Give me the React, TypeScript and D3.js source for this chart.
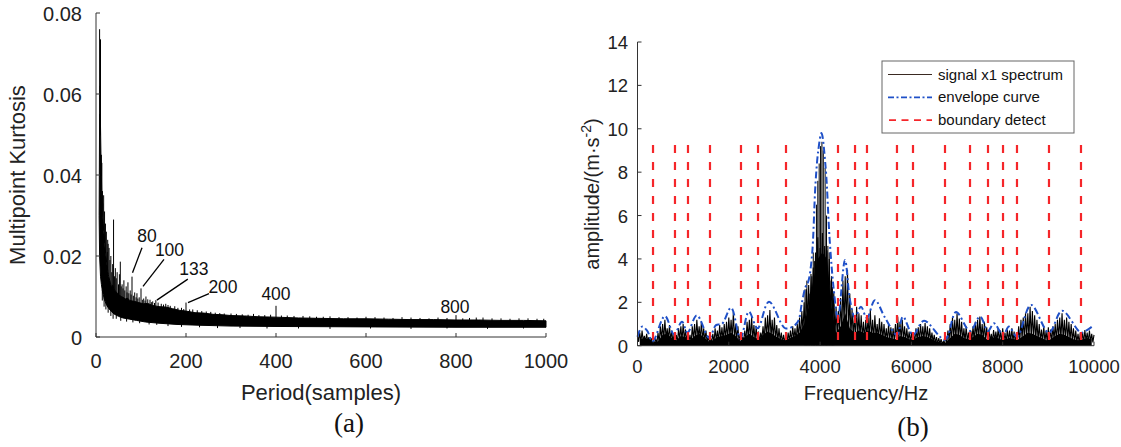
import React from 'react';
import * as d3 from 'd3';

const W = 1121;
const H = 447;

// ---------- Panel (a): multipoint kurtosis vs period ----------
const kurtXTicks = [0, 200, 400, 600, 800, 1000];
const kurtYTicks = [0, 0.02, 0.04, 0.06, 0.08];
const kurtYTickLabels = ['0', '0.02', '0.04', '0.06', '0.08'];

const bandUpperPeriods = [7, 8, 9, 10, 11, 12, 13, 14, 15, 16, 18, 20, 22, 24, 26, 28, 31, 34, 37, 40, 44, 48, 52, 56, 60, 65, 70, 75, 85, 95, 105, 115, 125, 140, 155, 170, 185, 200, 220, 240, 260, 280, 300, 330, 360, 400, 450, 500, 550, 600, 650, 700, 750, 800, 850, 900, 950, 1000];
const bandUpperValues = [0.030, 0.055, 0.050, 0.052, 0.045, 0.040, 0.034, 0.036, 0.030, 0.028, 0.025, 0.022, 0.020, 0.018, 0.0165, 0.015, 0.0138, 0.0125, 0.0128, 0.0118, 0.0112, 0.0108, 0.0103, 0.0100, 0.0098, 0.0094, 0.0096, 0.0090, 0.0088, 0.0085, 0.0082, 0.0083, 0.0078, 0.0075, 0.0074, 0.0070, 0.0066, 0.0064, 0.0060, 0.0059, 0.0056, 0.0055, 0.0053, 0.0052, 0.0050, 0.0049, 0.0047, 0.0046, 0.0045, 0.0045, 0.0044, 0.0043, 0.0043, 0.0042, 0.0042, 0.0041, 0.0041, 0.0040];
const bandLowerPeriods = [7, 8, 10, 12, 14, 16, 18, 20, 24, 28, 34, 40, 50, 60, 75, 90, 110, 140, 180, 230, 300, 400, 600, 800, 1000];
const bandLowerValues = [0.030, 0.020, 0.015, 0.013, 0.0115, 0.0105, 0.0095, 0.0088, 0.0078, 0.0071, 0.0063, 0.0057, 0.0051, 0.0047, 0.0044, 0.0041, 0.0037, 0.0034, 0.0031, 0.0029, 0.0027, 0.0026, 0.0025, 0.0024, 0.0024];

const spikePeriods = [8, 9, 10, 12, 13, 15, 17, 19, 21, 23, 25, 26, 27, 29, 31, 33, 35, 37, 39, 41, 43, 45, 47, 50, 52, 54, 56, 58, 60, 62, 64, 67, 69, 71, 73, 76, 78, 80, 83, 86, 89, 91, 93, 96, 100, 103, 106, 109, 111, 115, 120, 123, 126, 130, 133, 138, 145, 150, 155, 160, 165, 175, 182, 190, 195, 200, 208, 215, 225, 235, 245, 255, 265, 275, 285, 300, 312, 325, 338, 350, 362, 375, 388, 400, 412, 425, 440, 460, 475, 490, 505, 520, 540, 560, 580, 600, 620, 640, 660, 680, 700, 720, 740, 760, 780, 800, 815, 830, 845, 860, 880, 900, 920, 940, 960, 980, 995];
const spikeValues = [0.076, 0.062, 0.0735, 0.045, 0.043, 0.033, 0.035, 0.031, 0.028, 0.026, 0.021, 0.024, 0.023, 0.022, 0.019, 0.020, 0.016, 0.018, 0.029, 0.015, 0.017, 0.0145, 0.016, 0.013, 0.0155, 0.0186, 0.0125, 0.013, 0.012, 0.014, 0.0115, 0.0125, 0.011, 0.0135, 0.0108, 0.0115, 0.0105, 0.0149, 0.0102, 0.011, 0.0098, 0.0108, 0.0095, 0.0098, 0.012, 0.0092, 0.0095, 0.009, 0.010, 0.0093, 0.0092, 0.0086, 0.0088, 0.0084, 0.0091, 0.0085, 0.0082, 0.008, 0.0082, 0.0079, 0.0077, 0.0076, 0.0072, 0.0072, 0.0069, 0.0085, 0.0068, 0.0068, 0.0066, 0.0064, 0.0063, 0.0062, 0.006, 0.0059, 0.0058, 0.0058, 0.0057, 0.0056, 0.0055, 0.0057, 0.0054, 0.0054, 0.0055, 0.0077, 0.0053, 0.0053, 0.0052, 0.0052, 0.0051, 0.0050, 0.0050, 0.0051, 0.0049, 0.0049, 0.0048, 0.0050, 0.0049, 0.0048, 0.0047, 0.0049, 0.0048, 0.0047, 0.0046, 0.0048, 0.0047, 0.0054, 0.0046, 0.0047, 0.0048, 0.0048, 0.0046, 0.0046, 0.0045, 0.0046, 0.0046, 0.0045, 0.0045];

const dipPeriods = [14, 18, 22, 27, 33, 38, 45, 55, 68, 82, 97, 118, 135, 160, 190, 230, 270, 320, 380, 450, 520, 610, 700, 780, 870, 950];
const dipValues = [0.009, 0.0075, 0.0068, 0.006, 0.0052, 0.0045, 0.0045, 0.0040, 0.0038, 0.0036, 0.0034, 0.0031, 0.0030, 0.0027, 0.0025, 0.0024, 0.0022, 0.0022, 0.0021, 0.0021, 0.0020, 0.0021, 0.0020, 0.0021, 0.0020, 0.0021];

const annotLabels = ['80', '100', '133', '200', '400', '800'];
const annotPeriods = [80, 100, 133, 200, 400, 800];

// ---------- Panel (b): spectrum ----------
const freqXTicks = [0, 2000, 4000, 6000, 8000, 10000];
const ampYTicks = [0, 2, 4, 6, 8, 10, 12, 14];
const spectrumStep = 100;
// local maxima every 100 Hz (0 ... 10000)
const spectrumPeaks = [
  0.5, 0.7, 0.55, 0.35, 0.3, 0.9, 1.2, 0.95, 0.5, 0.8,
  1.0, 0.6, 0.9, 1.2, 1.1, 0.7, 0.35, 0.8, 0.95, 1.0,
  1.3, 1.55, 0.9, 0.4, 1.1, 1.35, 0.9, 0.6, 1.3, 1.65,
  1.3, 0.8, 0.5, 0.6, 0.9, 1.0, 1.6, 2.6, 3.3, 4.3,
  4.5, 4.6, 4.0, 2.5, 1.6, 3.0, 3.5, 1.7, 1.8, 1.4,
  1.2, 1.65, 1.4, 1.26, 1.0, 1.0, 0.8, 1.34, 1.2, 0.8,
  0.6, 0.8, 1.0, 1.05, 0.8, 0.5, 0.35, 0.2, 0.7, 1.3,
  1.5, 1.1, 0.9, 0.7, 1.1, 1.34, 1.1, 0.7, 0.72, 0.8,
  0.8, 0.75, 0.8, 0.6, 1.2, 1.5, 1.8, 1.4, 1.0, 0.9,
  0.85, 0.9, 1.2, 1.5, 1.3, 1.0, 0.7, 0.6, 0.72, 0.7,
  0.5,
];
// secondary maxima between them (50, 150, ... 9950 Hz)
const spectrumMid = [
  0.6, 0.45, 0.4, 0.25, 0.6, 1.0, 0.8, 0.7, 0.5, 0.9,
  0.75, 0.5, 1.0, 0.9, 0.8, 0.45, 0.55, 0.7, 0.85, 1.1,
  1.2, 1.0, 0.55, 0.7, 1.2, 0.95, 0.65, 0.9, 1.4, 1.2,
  0.95, 0.6, 0.45, 0.7, 0.8, 1.3, 2.0, 2.8, 3.6, 5.0,
  5.2, 4.4, 3.2, 1.8, 2.2, 3.2, 2.4, 1.4, 1.5, 1.1,
  1.3, 1.2, 1.0, 1.1, 0.8, 0.85, 1.0, 1.1, 0.9, 0.65,
  0.55, 0.85, 0.9, 0.9, 0.6, 0.4, 0.3, 0.45, 1.0, 1.2,
  1.25, 0.8, 0.6, 0.9, 1.2, 1.0, 0.85, 0.55, 0.65, 0.7,
  0.6, 0.7, 0.65, 0.9, 1.3, 1.5, 1.6, 1.2, 0.75, 0.7,
  0.75, 1.0, 1.3, 1.2, 1.1, 0.8, 0.55, 0.6, 0.6, 0.55,
];
// top of the solid black region (50, 150, ... 9950 Hz)
const spectrumFloor = [
  0.3, 0.35, 0.3, 0.15, 0.2, 0.5, 0.55, 0.35, 0.25, 0.45,
  0.4, 0.25, 0.45, 0.55, 0.4, 0.2, 0.25, 0.4, 0.45, 0.5,
  0.6, 0.45, 0.2, 0.4, 0.55, 0.4, 0.3, 0.5, 0.65, 0.55,
  0.4, 0.3, 0.25, 0.35, 0.45, 0.6, 1.0, 1.8, 3.0, 4.0,
  4.3, 4.0, 1.8, 0.6, 0.9, 1.5, 0.8, 0.6, 0.7, 0.6,
  0.7, 0.6, 0.6, 0.5, 0.4, 0.35, 0.3, 0.45, 0.4, 0.3,
  0.3, 0.4, 0.45, 0.4, 0.3, 0.2, 0.15, 0.15, 0.35, 0.55,
  0.5, 0.35, 0.3, 0.4, 0.55, 0.5, 0.3, 0.35, 0.4, 0.3,
  0.3, 0.35, 0.3, 0.3, 0.45, 0.6, 0.55, 0.45, 0.35, 0.25,
  0.3, 0.45, 0.55, 0.5, 0.4, 0.3, 0.25, 0.3, 0.35, 0.3,
];
const centerSpikeFreqs = [3670, 3710, 3760, 3820, 3850, 3880, 3920, 3950, 3980, 4010, 4040, 4070, 4110, 4140, 4170, 4200, 4240, 4270, 4300];
const centerSpikeAmps = [2.6, 3.0, 2.4, 3.2, 4.3, 3.9, 6.5, 7.6, 8.4, 9.2, 9.4, 9.0, 8.2, 6.0, 4.6, 4.3, 3.0, 2.7, 1.9];

const envelopeFreqs = [0, 100, 210, 330, 600, 800, 975, 1095, 1300, 1570, 1720, 1850, 2050, 2255, 2440, 2630, 2880, 3240, 3450, 3530, 3600, 3680, 3740, 3820, 3900, 3960, 4030, 4120, 4210, 4300, 4390, 4545, 4655, 4765, 4895, 5025, 5200, 5420, 5685, 5815, 6035, 6276, 6736, 6977, 7284, 7503, 7678, 7809, 8007, 8138, 8313, 8620, 9014, 9299, 9715, 9847, 10000];
const envelopeAmps = [0.41, 0.88, 0.7, 0.2, 1.37, 0.53, 1.1, 0.6, 1.4, 0.36, 0.95, 1.0, 1.75, 0.34, 1.57, 0.8, 2.03, 0.8, 0.95, 1.18, 1.96, 2.7, 2.95, 4.1, 7.5, 9.0, 9.8, 8.25, 4.87, 2.57, 1.25, 3.95, 2.1, 1.3, 1.8, 1.27, 2.1, 1.3, 0.5, 1.34, 0.5, 1.15, 0.28, 1.55, 0.68, 1.34, 0.68, 1.03, 0.49, 0.88, 0.41, 1.88, 0.6, 1.61, 0.6, 0.72, 0.95];

const boundaryFreqs = [340, 821, 1106, 1588, 2267, 2640, 3253, 4392, 4765, 5027, 5684, 6035, 6736, 7284, 7678, 8007, 8313, 9014, 9715];
const boundaryTop = 9.25;

const legendLabels = ['signal x1 spectrum', 'envelope curve', 'boundary detect'];

const SANS = '"Liberation Sans", Arial, Helvetica, sans-serif';
const SERIF = '"Liberation Serif", "Times New Roman", serif';
const AXIS = '#333';
const RED = '#f5262a';
const BLUE = '#1f50c8';

export default function App() {
  const xA = d3.scaleLinear().domain([0, 1000]).range([96, 546]);
  const yA = d3.scaleLinear().domain([0, 0.08]).range([337, 13]);
  const xB = d3.scaleLinear().domain([0, 10000]).range([637.5, 1094]);
  const yB = d3.scaleLinear().domain([0, 14]).range([345.7, 42]);

  const upperAt = d3.scaleLinear().domain(bandUpperPeriods).range(bandUpperValues).clamp(true);
  const lowerAt = d3.scaleLinear().domain(bandLowerPeriods).range(bandLowerValues).clamp(true);

  const line = d3.line<[number, number]>();

  const upperPts: [number, number][] = bandUpperPeriods.map((p, i) => [xA(p), yA(bandUpperValues[i])]);
  const lowerPts: [number, number][] = bandLowerPeriods.map((p, i) => [xA(p), yA(bandLowerValues[i])] as [number, number]).reverse();
  const bandPath = line([...upperPts, ...lowerPts]) + 'Z';

  // spectrum trace: peak -> floor -> mid -> floor -> next peak
  const q = spectrumStep / 4;
  const zig: [number, number][] = [];
  spectrumPeaks.forEach((v, i) => {
    const f = i * spectrumStep;
    zig.push([xB(f), yB(v)]);
    if (i < spectrumMid.length) {
      zig.push([xB(f + q), yB(spectrumFloor[i] * 0.6)]);
      zig.push([xB(f + 2 * q), yB(spectrumMid[i])]);
      zig.push([xB(f + 3 * q), yB(spectrumFloor[i] * 0.5)]);
    }
  });
  const floorArea = d3
    .area<number>()
    .x((_, i) => xB(i * spectrumStep + spectrumStep / 2))
    .y0(yB(0))
    .y1((d) => yB(d))(spectrumFloor) as string;

  const envLine = d3
    .line<number>()
    .x((_, i) => xB(envelopeFreqs[i]))
    .y((d) => yB(d))
    .curve(d3.curveCatmullRom.alpha(0.5))(envelopeAmps) as string;

  // annotation layout (offsets relative to the spike tops)
  const annotLayout = [
    { line: [0.5, -4, 10, -29], text: [15, -35] },
    { line: [2, -2, 23, -29], text: [28.5, -32] },
    { line: [1, 0, 32, -21], text: [38, -25] },
    { line: [2, 0, 23, -9], text: [37, -10] },
    { line: null, text: [0, -6] },
    { line: null, text: [-1, -2.5] },
  ];

  const tickLen = 4;

  return (
    <svg
      width={W}
      height={H}
      viewBox={`0 0 ${W} ${H}`}
      style={{ position: 'absolute', left: 0, top: 0, background: '#fff' }}
      fontFamily={SANS}
    >
      <rect x={0} y={0} width={W} height={H} fill="#fff" />

      {/* ===== Panel (a) ===== */}
      <g>
        <path d={bandPath} fill="#000" stroke="#000" strokeWidth={1} />
        {spikePeriods.map((p, i) => (
          <line key={'s' + i} x1={xA(p)} x2={xA(p)} y1={yA(upperAt(p)) + 1} y2={yA(spikeValues[i])} stroke="#000" strokeWidth={1} />
        ))}
        {dipPeriods.map((p, i) => (
          <line key={'d' + i} x1={xA(p)} x2={xA(p)} y1={yA(lowerAt(p)) - 1} y2={yA(dipValues[i])} stroke="#000" strokeWidth={1} />
        ))}
        {/* axes */}
        <line x1={xA(0)} x2={xA(1000)} y1={yA(0)} y2={yA(0)} stroke={AXIS} strokeWidth={1} />
        <line x1={xA(0)} x2={xA(0)} y1={yA(0)} y2={yA(0.08)} stroke={AXIS} strokeWidth={1} />
        {kurtXTicks.map((t) => (
          <g key={t}>
            <line x1={xA(t)} x2={xA(t)} y1={yA(0)} y2={yA(0) - tickLen} stroke={AXIS} />
            <text x={xA(t)} y={368} textAnchor="middle" fontSize={20} fill="#222">
              {t}
            </text>
          </g>
        ))}
        {kurtYTicks.map((t, i) => (
          <g key={t}>
            <line x1={xA(0)} x2={xA(0) + tickLen} y1={yA(t)} y2={yA(t)} stroke={AXIS} />
            <text x={82} y={yA(t) + 8} textAnchor="end" fontSize={20} fill="#222">
              {kurtYTickLabels[i]}
            </text>
          </g>
        ))}
        <text x={321} y={400} textAnchor="middle" fontSize={22} fill="#222">
          Period(samples)
        </text>
        <text transform={`translate(25,175) rotate(-90)`} textAnchor="middle" fontSize={22} fill="#222">
          Multipoint Kurtosis
        </text>
        {/* annotations */}
        {annotLabels.map((lab, i) => {
          const p = annotPeriods[i];
          const si = spikePeriods.indexOf(p);
          const sx = xA(p);
          const sy = yA(spikeValues[si]);
          const L = annotLayout[i];
          return (
            <g key={lab}>
              {L.line && (
                <line x1={sx + L.line[0]} y1={sy + L.line[1]} x2={sx + L.line[2]} y2={sy + L.line[3]} stroke="#000" strokeWidth={1.3} />
              )}
              <text x={sx + L.text[0]} y={sy + L.text[1]} textAnchor="middle" fontSize={17.5} fill="#111">
                {lab}
              </text>
            </g>
          );
        })}
        <text x={349} y={432} textAnchor="middle" fontSize={27} fontFamily={SERIF} fill="#111">
          (a)
        </text>
      </g>

      {/* ===== Panel (b) ===== */}
      <g>
        <path d={floorArea} fill="#000" />
        <path d={line(zig) as string} fill="none" stroke="#000" strokeWidth={1.1} />
        {centerSpikeFreqs.map((f, i) => (
          <line key={f} x1={xB(f)} x2={xB(f)} y1={yB(0)} y2={yB(centerSpikeAmps[i])} stroke="#000" strokeWidth={1} />
        ))}
        <path d={envLine} fill="none" stroke={BLUE} strokeWidth={2} strokeDasharray="7,3,2,3" />
        {boundaryFreqs.map((f) => (
          <line key={f} x1={xB(f)} x2={xB(f)} y1={yB(boundaryTop)} y2={yB(0)} stroke={RED} strokeWidth={2.2} strokeDasharray="8,9" />
        ))}
        {/* axes */}
        <line x1={xB(0)} x2={xB(10000)} y1={yB(0)} y2={yB(0)} stroke={AXIS} strokeWidth={1} />
        <line x1={xB(0)} x2={xB(0)} y1={yB(0)} y2={yB(14)} stroke={AXIS} strokeWidth={1} />
        {freqXTicks.map((t) => (
          <g key={t}>
            <line x1={xB(t)} x2={xB(t)} y1={yB(0)} y2={yB(0) - tickLen} stroke={AXIS} />
            <text x={xB(t)} y={373} textAnchor="middle" fontSize={18.5} fill="#222">
              {t}
            </text>
          </g>
        ))}
        {ampYTicks.map((t) => (
          <g key={t}>
            <line x1={xB(0)} x2={xB(0) + tickLen} y1={yB(t)} y2={yB(t)} stroke={AXIS} />
            <text x={628} y={yB(t) + 7} textAnchor="end" fontSize={18.5} fill="#222">
              {t}
            </text>
          </g>
        ))}
        <text x={866} y={400} textAnchor="middle" fontSize={20} fill="#222">
          Frequency/Hz
        </text>
        <text transform={`translate(599,194) rotate(-90)`} textAnchor="middle" fontSize={20} fill="#222">
          amplitude/(m·s
          <tspan dy={-8} fontSize={14}>-2</tspan>
          <tspan dy={8}>)</tspan>
        </text>
        {/* legend */}
        <rect x={882} y={61} width={192} height={72} fill="#fff" stroke="#666" strokeWidth={1} />
        {legendLabels.map((lab, i) => {
          const ly = 74.5 + i * 22.8;
          return (
            <g key={lab}>
              {i === 0 && <line x1={888} x2={932} y1={ly} y2={ly} stroke="#3a2a22" strokeWidth={1.2} />}
              {i === 1 && <line x1={888} x2={932} y1={ly} y2={ly} stroke={BLUE} strokeWidth={1.8} strokeDasharray="6,2.5,2,2.5" />}
              {i === 2 && <line x1={889} x2={932} y1={ly} y2={ly} stroke={RED} strokeWidth={1.8} strokeDasharray="7,5.5" />}
              <text x={938} y={ly + 5} fontSize={15} fill="#111">
                {lab}
              </text>
            </g>
          );
        })}
        <text x={913} y={436} textAnchor="middle" fontSize={27} fontFamily={SERIF} fill="#111">
          (b)
        </text>
      </g>
    </svg>
  );
}
